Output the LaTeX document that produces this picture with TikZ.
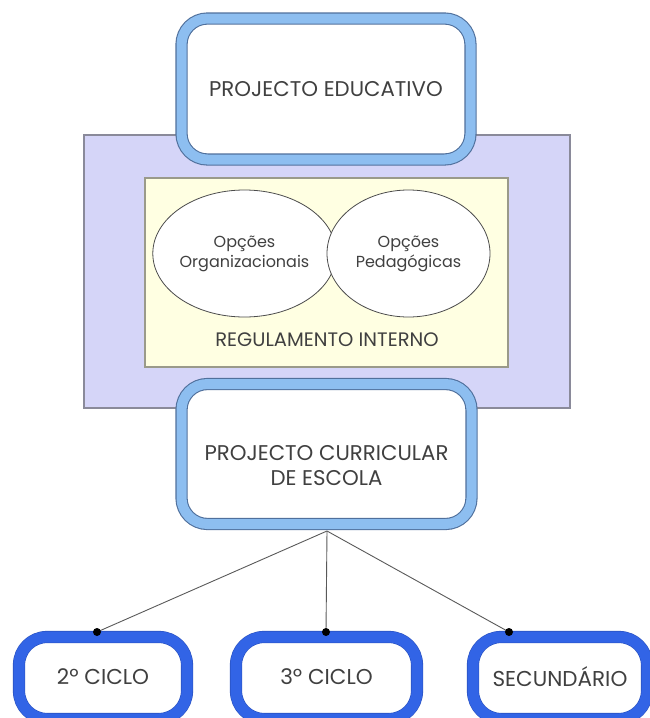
\documentclass[tikz,border=0pt]{standalone}
\usepackage{fontspec}
\setmainfont{Poppins}
\usetikzlibrary{shapes.geometric}
\definecolor{lav}{HTML}{D5D5F8}
\definecolor{lavline}{HTML}{8A8A9A}
\definecolor{cream}{HTML}{FFFFE2}
\definecolor{creamline}{HTML}{9A9A8A}
\definecolor{lightblue}{HTML}{8DBEF0}
\definecolor{bluedge}{HTML}{50709C}
\definecolor{royal}{HTML}{3264E6}
\definecolor{royaledge}{HTML}{2A52C0}
\definecolor{txt}{HTML}{404040}
\tikzset{
  bigbox/.style={rounded corners=26pt, draw=bluedge, line width=1.1pt,
    double=lightblue, double distance=10pt, fill=white, text=txt,
    align=center, inner sep=0pt},
  smallbox/.style={rounded corners=28pt, draw=royaledge, line width=0.6pt,
    double=royal, double distance=11pt, fill=white, text=txt,
    align=center, inner sep=0pt, font=\fontsize{21.5}{24}\selectfont},
  oval/.style={ellipse, draw=black!70, line width=0.8pt, fill=white,
    text=txt, align=center, inner sep=0pt,
    font=\fontsize{16}{20}\selectfont},
  link/.style={draw=black!65, line width=0.9pt},
  dot/.style={circle, fill=black, inner sep=0pt, minimum size=8pt},
  bigtext/.style={text=txt, align=center, inner sep=0pt,
    font=\fontsize{21.3}{25}\selectfont}
}
\begin{document}
\begin{tikzpicture}[x=1pt,y=-1pt]
\useasboundingbox (0,0) rectangle (650,718);
\clip (0,0) rectangle (650,718);
% outer lavender frame and regulation panel
\draw[fill=lav, draw=lavline, line width=1.2pt] (84,135) rectangle (570,408);
\draw[fill=cream, draw=creamline, line width=1.2pt] (145,178) rectangle (508,367);
\node[oval, minimum width=165pt, minimum height=127pt] (org) at (244.5,253.5) {Opções\\Organizacionais};
\node[oval, minimum width=163pt, minimum height=127pt] (ped) at (408.5,253.5) {Opções\\Pedagógicas};
\node[text=txt, font=\fontsize{19.5}{22}\selectfont] (ri) at (327,340) {REGULAMENTO INTERNO};
% top and middle boxes
\node[bigbox, bigtext, minimum width=289pt, minimum height=141pt] (pe) at (326,89) {PROJECTO EDUCATIVO};
% connectors
\coordinate (hub) at (327,531);
\coordinate (d1) at (97,632);
\coordinate (d2) at (326,632);
\coordinate (d3) at (509,632);
\draw[link] (hub) -- (d1);
\draw[link] (hub) -- (d2);
\draw[link] (hub) -- (d3);
\node[bigbox, minimum width=290pt, minimum height=140pt] (pce) at (326.5,454) {};
\node[bigtext] (pcet) at (326.5,466) {PROJECTO CURRICULAR\\DE ESCOLA};
% bottom boxes
\node[smallbox, minimum width=168pt, minimum height=82pt] (c2) at (103,678) {\raisebox{2pt}{2º CICLO}};
\node[smallbox, minimum width=181pt, minimum height=82pt] (c3) at (326.5,678) {\raisebox{2pt}{3º CICLO}};
\node[smallbox, minimum width=174pt, minimum height=82pt] (sec) at (560,678) {\raisebox{2pt}{SECUNDÁRIO}};
\node[dot] at (d1) {};
\node[dot] at (d2) {};
\node[dot] at (d3) {};
\end{tikzpicture}
\end{document}
